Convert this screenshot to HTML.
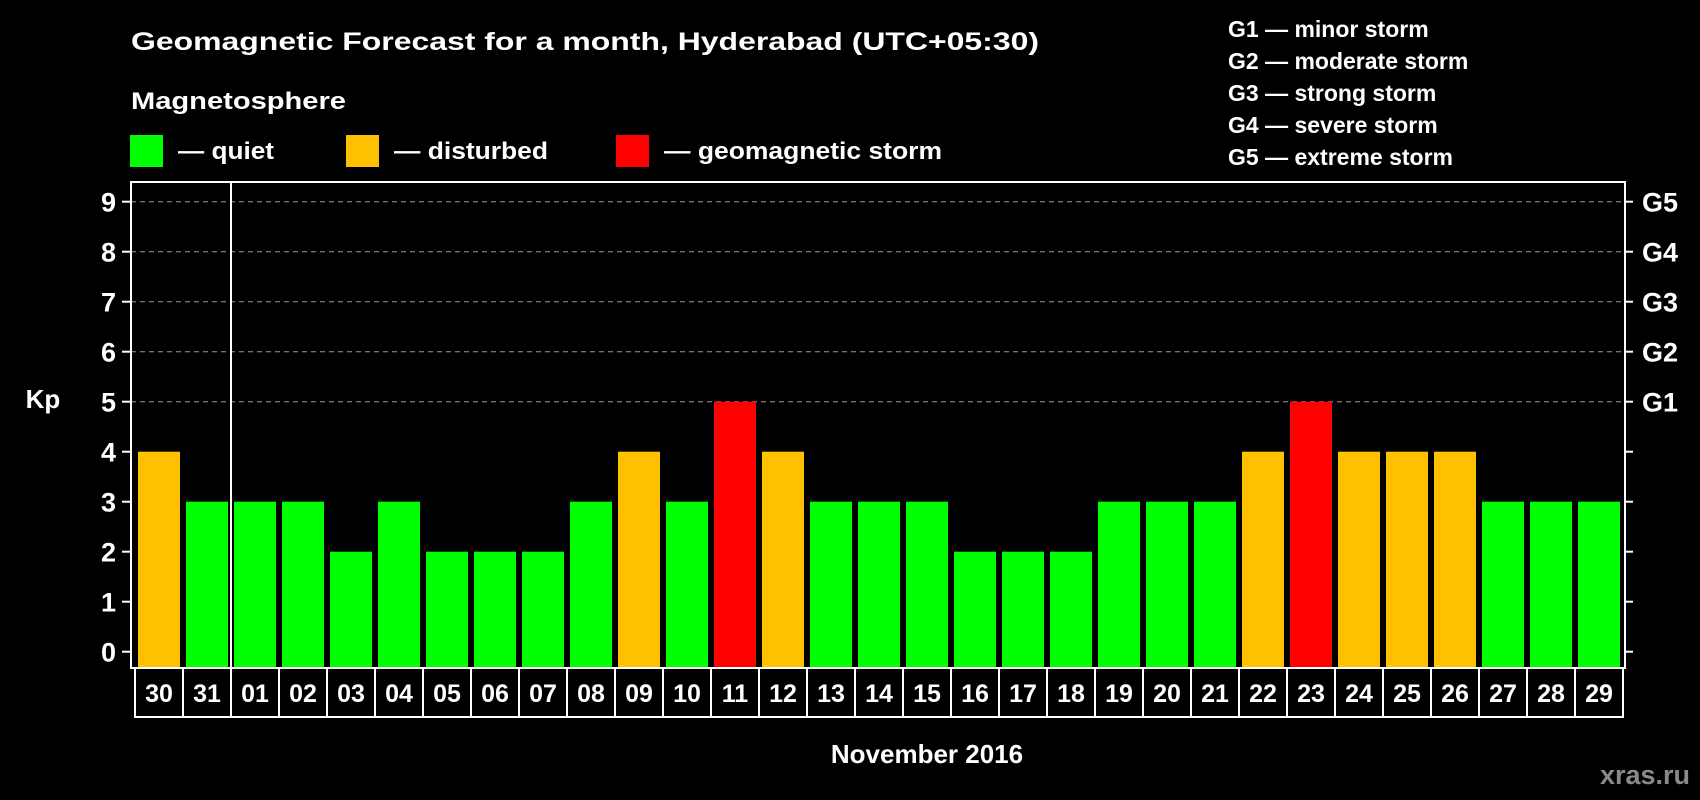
<!DOCTYPE html>
<html><head><meta charset="utf-8"><style>
html,body{margin:0;padding:0;background:#000;}
svg{display:block;font-family:"Liberation Sans",Arial,sans-serif;font-weight:bold;}
</style></head><body>
<svg id="chart" width="1700" height="800" viewBox="0 0 1700 800" xmlns="http://www.w3.org/2000/svg">
<rect x="0" y="0" width="1700" height="800" fill="#000"/>
<text x="131" y="50" font-size="25" fill="#fff" textLength="908" lengthAdjust="spacingAndGlyphs">Geomagnetic Forecast for a month, Hyderabad (UTC+05:30)</text>
<text x="131" y="109" font-size="24" fill="#fff" textLength="215" lengthAdjust="spacingAndGlyphs">Magnetosphere</text>
<g>
<rect x="130" y="135" width="33" height="32" fill="#00ff00"/>
<text x="178" y="159" font-size="24" fill="#fff" textLength="96" lengthAdjust="spacingAndGlyphs">— quiet</text></g>
<g>
<rect x="346" y="135" width="33" height="32" fill="#ffc000"/>
<text x="394" y="159" font-size="24" fill="#fff" textLength="154" lengthAdjust="spacingAndGlyphs">— disturbed</text></g>
<g>
<rect x="616" y="135" width="33" height="32" fill="#ff0000"/>
<text x="664" y="159" font-size="24" fill="#fff" textLength="278" lengthAdjust="spacingAndGlyphs">— geomagnetic storm</text></g>
<g id="glegend"></g>
<g id="plot"></g>
<text x="43" y="408" font-size="26" fill="#fff" text-anchor="middle">Kp</text>
<text x="927" y="763" font-size="26" fill="#fff" text-anchor="middle">November 2016</text>
<text x="1690" y="784" font-size="27" fill="#8a8a8a" text-anchor="end">xras.ru</text>
</svg>
<script>
const days = ["30","31","01","02","03","04","05","06","07","08","09","10","11","12","13","14","15","16","17","18","19","20","21","22","23","24","25","26","27","28","29"];
const kpValues = [4,3,3,3,2,3,2,2,2,3,4,3,5,4,3,3,3,2,2,2,3,3,3,4,5,4,4,4,3,3,3];
const yTicks = [0,1,2,3,4,5,6,7,8,9];
const gLabels = ["G1","G2","G3","G4","G5"];
const gText = ["G1 — minor storm","G2 — moderate storm","G3 — strong storm","G4 — severe storm","G5 — extreme storm"];

const NS="http://www.w3.org/2000/svg";
const plotL=131, plotR=1625, plotT=182, plotB=668;
const y0=651.7, unit=50;
const cellX0=135, cellW=48;
function yScale(v){return y0 - v*unit;}
function xCell(i){return cellX0 + i*cellW;}
function color(v){return v>=5?"#ff0000":(v>=4?"#ffc000":"#00ff00");}
function mk(tag,attrs,parent){const e=document.createElementNS(NS,tag);for(const k in attrs)e.setAttribute(k,attrs[k]);parent.appendChild(e);return e;}
const plot=document.getElementById('plot');
const gl=document.getElementById('glegend');

gText.forEach((t,i)=>{
  const e=mk('text',{x:1228,y:37+i*32,'font-size':23,fill:'#fff'},gl);
  
  
  e.textContent=t;
});

// grid lines
yTicks.forEach(v=>{
  if(v>=5){
    const g=mk('line',{x1:plotL,x2:plotR,y1:yScale(v),y2:yScale(v),stroke:'#9a9a9a','stroke-width':1,'stroke-dasharray':'5,4'},plot);
    
    
  }
  const t=mk('line',{x1:122,x2:plotL,y1:yScale(v),y2:yScale(v),stroke:'#fff','stroke-width':2},plot);
  
  
  const tr=mk('line',{x1:plotR,x2:plotR+8,y1:yScale(v),y2:yScale(v),stroke:'#fff','stroke-width':2},plot);
  
  
  const lb=mk('text',{x:116,y:yScale(v)+10,'font-size':27,fill:'#fff','text-anchor':'end'},plot);
  
  
  lb.textContent=v;
  if(v>=5){
    const gt=mk('text',{x:1642,y:yScale(v)+10,'font-size':27,fill:'#fff'},plot);
    
    
    gt.textContent=gLabels[v-5];
  }
});

// bars
kpValues.forEach((v,i)=>{
  const b=mk('rect',{x:xCell(i)+3,y:yScale(v),width:42,height:plotB-1-yScale(v),fill:color(v)},plot);
  
  
});

// frame
const fr=mk('rect',{x:plotL,y:plotT,width:plotR-plotL,height:plotB-plotT,fill:'none',stroke:'#fff','stroke-width':2},plot);


const mdiv=mk('line',{x1:xCell(2),x2:xCell(2),y1:plotT,y2:plotB,stroke:'#fff','stroke-width':2},plot);



// day label cells
days.forEach((d,i)=>{
  const c=mk('rect',{x:xCell(i),y:plotB,width:cellW,height:49,fill:'none',stroke:'#fff','stroke-width':2},plot);
  
  
  const t=mk('text',{x:xCell(i)+cellW/2,y:plotB+34,'font-size':25,fill:'#fff','text-anchor':'middle'},plot);
  
  
  t.textContent=d;
});
</script>
</body></html>
